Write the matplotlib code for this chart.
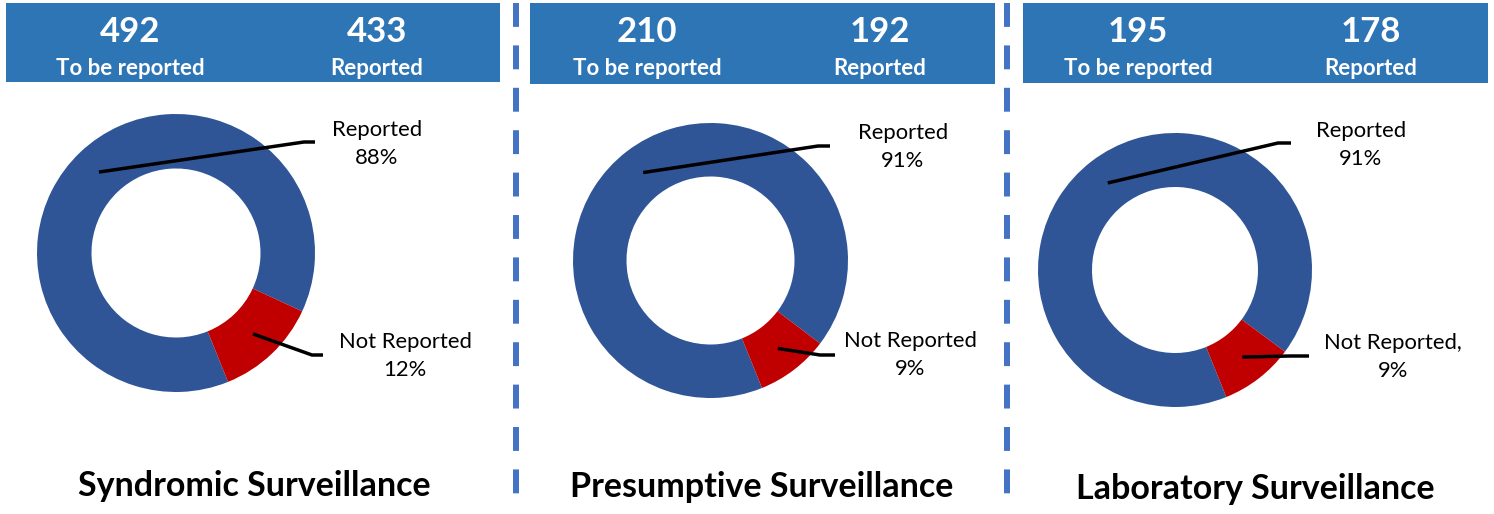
import matplotlib
matplotlib.use("Agg")
import matplotlib.pyplot as plt
from matplotlib.patches import Rectangle
import numpy as np

# data
titles = ["Syndromic Surveillance", "Presumptive Surveillance", "Laboratory Surveillance"]
to_be_reported = [492, 210, 195]
reported = [433, 192, 178]
nr_labels = ["Not Reported", "Not Reported", "Not Reported,"]

W, H = 1494, 514
BLUE_HDR = "#2E75B6"
BLUE_PIE = "#2F5597"
RED = "#C00000"
SEP = "#4472C4"

plt.rcParams["font.family"] = ["Lato", "DejaVu Sans"]

# layout (pixel coords, y measured from top)
headers = [(6, 3, 500, 82), (530, 3, 995, 84), (1023, 3, 1488, 83)]
num_x = [(130, 377), (647, 880), (1138, 1371)]
centers = [(176, 253), (710.5, 260.5), (1175, 270)]
radius = [139, 137.5, 137]
inner = [84.5, 84, 83]
rep_txt = [(377, 144), (903, 147), (1361, 145)]
rep_elbow = [((304, 142), (315, 142)), ((818, 146), (830, 146)), ((1278, 143), (1291, 143))]
nr_txt = [(405, 356), (910, 355), (1393, 357)]
nr_elbow = [((312, 355), (323, 355)), ((820, 355), (835, 355)), ((1290, 356), (1309, 356))]
title_pos = [(254, 486), (762, 487), (1255, 489)]
sep_x = [515.5, 1007]


def Y(v):
    return H - v


fig = plt.figure(figsize=(W / 100, H / 100), dpi=100)
ax = fig.add_axes([0, 0, 1, 1])

for i in range(3):
    x0, y0, x1, y1 = headers[i]
    ax.add_patch(Rectangle((x0, Y(y1)), x1 - x0, y1 - y0, color=BLUE_HDR, lw=0))
    for x, num, lab in zip(num_x[i], (to_be_reported[i], reported[i]),
                           ("To be reported", "Reported")):
        ax.text(x, Y(42), str(num), color="white", fontsize=25, fontweight="bold",
                ha="center", va="baseline")
        ax.text(x, Y(75), lab, color="white", fontsize=16, fontweight="bold",
                ha="center", va="baseline")

    rep = reported[i]
    nrep = to_be_reported[i] - rep
    cx, cy = centers[i]
    r = radius[i]
    wedges, _ = ax.pie([rep, nrep], colors=[BLUE_PIE, RED], startangle=-68,
                       counterclock=False, radius=r, center=(cx, Y(cy)),
                       wedgeprops=dict(width=r - inner[i], linewidth=0))

    # leader lines start from the middle of each ring segment
    mid_r = (r + inner[i]) / 2
    for w, elbow, txt_pos, text in (
            (wedges[0], rep_elbow[i], rep_txt[i], "Reported\n%d%%" % round(100 * rep / to_be_reported[i])),
            (wedges[1], nr_elbow[i], nr_txt[i], "%s\n%d%%" % (nr_labels[i], round(100 * nrep / to_be_reported[i])))):
        ang = np.deg2rad((w.theta1 + w.theta2) / 2)
        sx = cx + mid_r * np.cos(ang)
        sy = Y(cy) + mid_r * np.sin(ang)
        (ex, ey), (fx, fy) = elbow
        ax.plot([sx, ex, fx], [sy, Y(ey), Y(fy)], color="black", lw=2.5,
                solid_capstyle="butt")
        ax.text(txt_pos[0], Y(txt_pos[1]), text, fontsize=15.8, ha="center", va="center",
                multialignment="center", linespacing=1.5)

    ax.text(title_pos[i][0], Y(title_pos[i][1]), titles[i], fontsize=24.5,
            fontweight="bold", ha="center", va="center")

for x in sep_x:
    ax.plot([x, x], [Y(3), Y(497)], color=SEP, lw=4.3, dashes=(4, 3.1),
            solid_capstyle="butt", dash_capstyle="butt")

ax.set_xlim(0, W)
ax.set_ylim(0, H)
ax.set_aspect("auto")
ax.axis("off")

fig.savefig("out.png", dpi=100)
